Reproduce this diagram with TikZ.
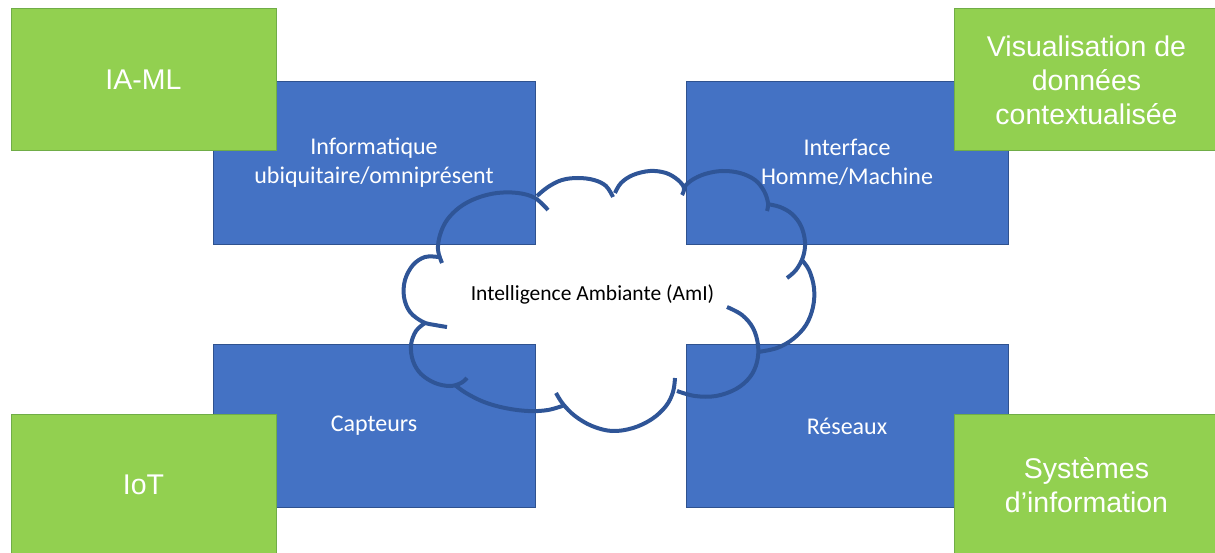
\documentclass[tikz,border=0pt]{standalone}
\usepackage{fontspec}
\setmainfont{Carlito}
\newfontfamily\helv{Liberation Sans}
\definecolor{bluefill}{HTML}{4472C4}
\definecolor{blueline}{HTML}{2F528F}
\definecolor{greenfill}{HTML}{92D050}
\definecolor{greenline}{HTML}{70AD47}
\definecolor{cloudcol}{HTML}{2F5597}
\begin{document}
\begin{tikzpicture}[x=1pt,y=-1pt]
\useasboundingbox (0,0) rectangle (1215,553);
\tikzset{
 bluebox/.style={draw=blueline, fill=bluefill, line width=0.8pt, minimum width=322pt, minimum height=163pt, inner sep=0pt, text=white, align=center, font=\fontsize{24}{29}\selectfont},
 greenbox/.style={draw=greenline, fill=greenfill, line width=1pt, minimum width=265pt, minimum height=142pt, inner sep=0pt, text=white, align=center, font=\helv\fontsize{28.5}{34}\selectfont},
 cloudline/.style={draw=cloudcol, line width=4pt},
 cloudtext/.style={text=black, font=\fontsize{21.5}{26}\selectfont, inner sep=0pt}
}
% blue boxes
\node[bluebox] (info) at (374,162.5) {Informatique\\ubiquitaire/omniprésent};
\node[bluebox] (ihm) at (847,162.5) {Interface\\Homme/Machine};
\node[bluebox] (capt) at (374,426) {Capteurs};
\node[bluebox] (res) at (847,426) {Réseaux};
% green boxes
\node[greenbox] (iaml) at (143.5,80) {IA-ML};
\node[greenbox] (visu) at (1086.5,80) {Visualisation de\\données\\contextualisée};
\node[greenbox] (iot) at (143.5,485) {IoT};
\node[greenbox] (si) at (1086.5,485) {Systèmes\\d’information};
% cloud
\draw[cloudline] plot[smooth,tension=0.6] coordinates {(442,263) (438,250) (440,235) (447,220) (460,207) (477,198) (497,193) (518,193) (535,198) (548,210)};
\draw[cloudline] plot[smooth,tension=0.6] coordinates {(537,196) (548,187) (562,180) (578,178) (594,180) (606,186) (613,197)};
\draw[cloudline] plot[smooth,tension=0.6] coordinates {(615,193) (621,183) (633,175) (650,171) (666,173) (678,180) (684,188) (682,195)};
\draw[cloudline] plot[smooth,tension=0.6] coordinates {(684,187) (692,180) (705,174) (722,171) (740,173) (755,180) (764,191) (768,203) (767,211)};
\draw[cloudline] plot[smooth,tension=0.6] coordinates {(767,204) (780,207) (792,214) (801,226) (805,242) (803,257) (796,270) (787,278)};
\draw[cloudline] plot[smooth,tension=0.6] coordinates {(801,259) (809,270) (814,288) (813,307) (806,325) (793,339) (777,348) (758,352)};
\draw[cloudline] plot[smooth,tension=0.6] coordinates {(727,307) (742,315) (753,328) (758,345) (757,362) (750,377) (736,389) (716,396) (695,396) (677,391)};
\draw[cloudline] plot[smooth,tension=0.6] coordinates {(556,393) (563,404) (575,416) (592,426) (612,431) (633,428) (652,419) (666,406) (673,392) (675,378)};
\draw[cloudline] plot[smooth,tension=0.6] coordinates {(455,385) (466,393) (484,402) (505,408) (528,411) (548,410) (565,405)};
\draw[cloudline] plot[smooth,tension=0.6] coordinates {(425,323) (416,331) (411,345) (413,361) (421,374) (435,383) (450,386) (461,383) (467,378)};
\draw[cloudline] plot[smooth,tension=0.6] coordinates {(438,257) (425,257) (413,265) (405,280) (404,297) (410,312) (423,322) (435,325) (447,327)};
\node[cloudtext] (aml) at (592.5,294) {Intelligence Ambiante (AmI)};
\end{tikzpicture}
\end{document}
